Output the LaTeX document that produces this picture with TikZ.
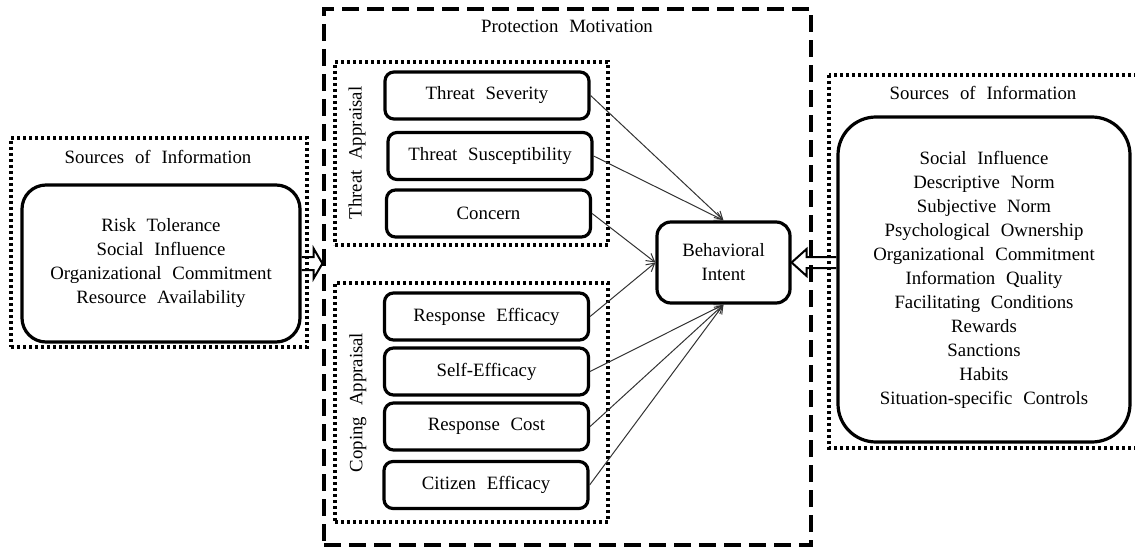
\documentclass[tikz,border=0pt]{standalone}
\usepackage{fontspec}
\setmainfont{Liberation Serif}[WordSpace=2.3]
\usetikzlibrary{arrows.meta,calc}

\begin{document}
\begin{tikzpicture}[x=1pt,y=-1pt,
  font=\rmfamily\fontsize{18.8}{24}\selectfont,
  item/.style={draw, line width=3.2pt, rounded corners=9pt, minimum width=204pt,
    minimum height=47pt, inner sep=0pt},
  dotbox/.style={draw, line width=3.2pt, dash pattern=on 3pt off 3pt,
    minimum width=#1, inner sep=0pt},
  dashbox/.style={draw, line width=3.2pt, dash pattern=on 17pt off 8pt, inner sep=0pt},
  link/.style={draw=black!80, line width=1pt, -{Straight Barb[length=8pt,width=9pt]}},
  hollow/.style={draw, line width=2pt, line join=miter},
  lbl/.style={inner sep=0pt, align=center},
]
\useasboundingbox (0,0) rectangle (1135,548);
\clip (0,0) rectangle (1135,548);

% Protection motivation frame
\node[dashbox, minimum width=487pt, minimum height=536pt] (pm) at (567.5,277) {};
\node[lbl] (pmt) at (567,26) {Protection Motivation};

% Threat appraisal group
\node[dotbox=273pt, minimum height=183pt] (ta) at (471.5,153.5) {};
\node[lbl, rotate=90] (tal) at (357,153) {Threat Appraisal};
\node[item] (ts)  at (487,95.5)   {Threat Severity};
\node[item] (tsu) at (490,156)    {Threat Susceptibility};
\node[item] (con) at (488.5,213.5) {Concern};

% Coping appraisal group
\node[dotbox=273pt, minimum height=239pt] (ca) at (471.5,402.5) {};
\node[lbl, rotate=90] (cal) at (358,402.5) {Coping Appraisal};
\node[item] (re) at (486.5,316.5) {Response Efficacy};
\node[item] (se) at (486.5,371.5) {Self-Efficacy};
\node[item] (rc) at (486.5,426.5) {Response Cost};
\node[item] (ce) at (486,485)     {Citizen Efficacy};

% Outcome
\node[draw, line width=3.2pt, rounded corners=14pt, minimum width=133pt,
  minimum height=81pt, lbl] (bi) at (723.5,262.5) {Behavioral\\Intent};

% Left sources
\node[dotbox=296pt, minimum height=209pt] (ls) at (159,242.5) {};
\node[lbl] (lst) at (158,157) {Sources of Information};
\node[draw, line width=3.2pt, rounded corners=24pt, minimum width=278pt,
  minimum height=157pt, lbl] (lbox) at (161,263.5)
  {Risk Tolerance\\Social Influence\\Organizational Commitment\\Resource Availability};

% Right sources (frame runs past the right edge)
\coordinate (rs1) at (829,75);
\coordinate (rs2) at (1150,448);
\draw[line width=3.2pt, dash pattern=on 3pt off 3pt] (rs1) rectangle (rs2);
\node[lbl] (rst) at (983,93) {Sources of Information};
\node[draw, line width=3.2pt, rounded corners=38pt, minimum width=292pt,
  minimum height=325pt, lbl] (rbox) at (984,279.5)
  {Social Influence\\Descriptive Norm\\Subjective Norm\\Psychological Ownership\\
   Organizational Commitment\\Information Quality\\Facilitating Conditions\\
   Rewards\\Sanctions\\Habits\\Situation-specific Controls};

% Paths into behavioral intent
\draw[link] (ts.east)  -- (bi.north);
\draw[link] (tsu.east) -- (bi.north);
\draw[link] (con.east) -- (bi.west);
\draw[link] (re.east)  -- (bi.west);
\draw[link] (se.east)  -- (bi.south);
\draw[link] (rc.east)  -- (bi.south);
\draw[link] (ce.east)  -- (bi.south);

% Hollow block arrows
\coordinate (la) at (lbox.east);
\draw[hollow] ($(la)+(0,-6.5)$) -- ($(la)+(12,-6.5)$) -- ($(la)+(12,-15)$)
  -- (la -| pm.west) -- ($(la)+(12,15)$) -- ($(la)+(12,6.5)$) -- ($(la)+(0,6.5)$);
\coordinate (ra) at (bi.east);
\draw[hollow] ($(ra -| rbox.west)+(0,-5.5)$) -- ($(ra)+(15,-5.5)$) -- ($(ra)+(15,-13.5)$)
  -- (ra) -- ($(ra)+(15,13.5)$) -- ($(ra)+(15,5.5)$) -- ($(ra -| rbox.west)+(0,5.5)$);
\end{tikzpicture}
\end{document}
